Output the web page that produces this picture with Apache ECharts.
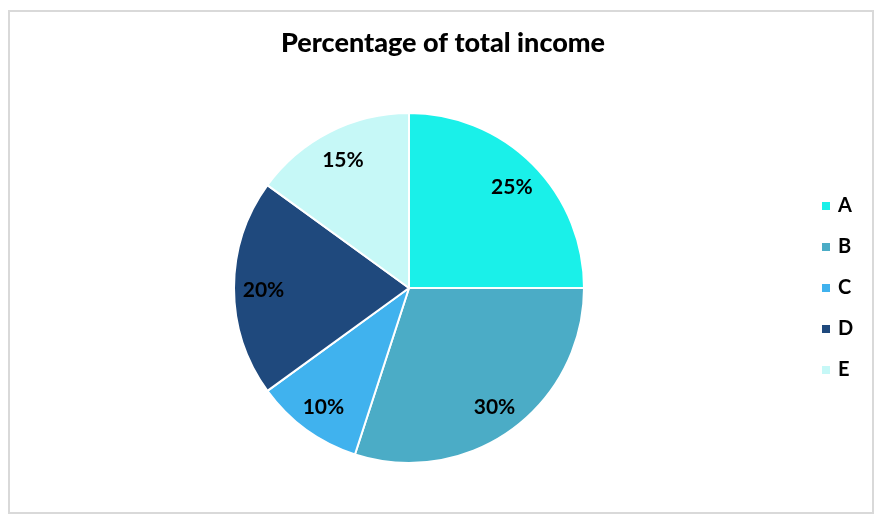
<!DOCTYPE html>
<html>
<head>
<meta charset="utf-8">
<script src="https://cdn.jsdelivr.net/npm/echarts@6/dist/echarts.min.js"></script>
<style>
html,body{margin:0;padding:0;background:#fff;}
#chart{width:880px;height:523px;}
</style>
</head>
<body>
<div id="chart"></div>
<script>
var titleText = 'Percentage of total income';
var categories = ['A', 'B', 'C', 'D', 'E'];
var values = [25, 30, 10, 20, 15];
var colors = ['#1AF0E9', '#4BACC6', '#40B2EE', '#1F497D', '#C6F8F7'];

var chart = echarts.init(document.getElementById('chart'));
var FONT = 'Lato';
var data = categories.map(function (c, i) {
  return { name: c, value: values[i], itemStyle: { color: colors[i] } };
});
var labelData = categories.map(function (c, i) {
  return { name: c, value: values[i] };
});
chart.setOption({
  animation: false,
  color: colors,
  graphic: [{
    type: 'rect',
    shape: { x: 9, y: 11, width: 864, height: 502 },
    style: { fill: 'none', stroke: '#D9D9D9', lineWidth: 2 },
    silent: true
  }],
  title: {
    text: titleText,
    left: 438, top: 25, textAlign: 'center',
    textStyle: { fontFamily: FONT, fontWeight: 900, fontSize: 27, color: '#000' }
  },
  legend: {
    orient: 'vertical',
    left: 815, top: 191,
    itemWidth: 10, itemHeight: 10, itemGap: 21,
    icon: 'rect',
    data: categories,
    textStyle: { fontFamily: FONT, fontWeight: 'bold', fontSize: 20, lineHeight: 20, color: '#000', padding: [0, 0, 0, 2] }
  },
  series: [{
    type: 'pie',
    center: [409, 288],
    radius: [0, 175],
    startAngle: 90,
    clockwise: true,
    data: data,
    label: { show: false },
    labelLine: { show: false },
    itemStyle: { borderColor: '#fff', borderWidth: 2 },
    emphasis: { disabled: true }
  }, {
    type: 'pie',
    center: [409, 290],
    radius: [110, 175],
    startAngle: 90,
    clockwise: true,
    silent: true,
    data: labelData,
    itemStyle: { color: 'rgba(0,0,0,0)' },
    label: {
      show: true, position: 'inside',
      formatter: '{c}%',
      fontFamily: FONT, fontWeight: 'bold', fontSize: 21, color: '#000'
    },
    labelLine: { show: false },
    emphasis: { disabled: true }
  }]
});
</script>
</body>
</html>
